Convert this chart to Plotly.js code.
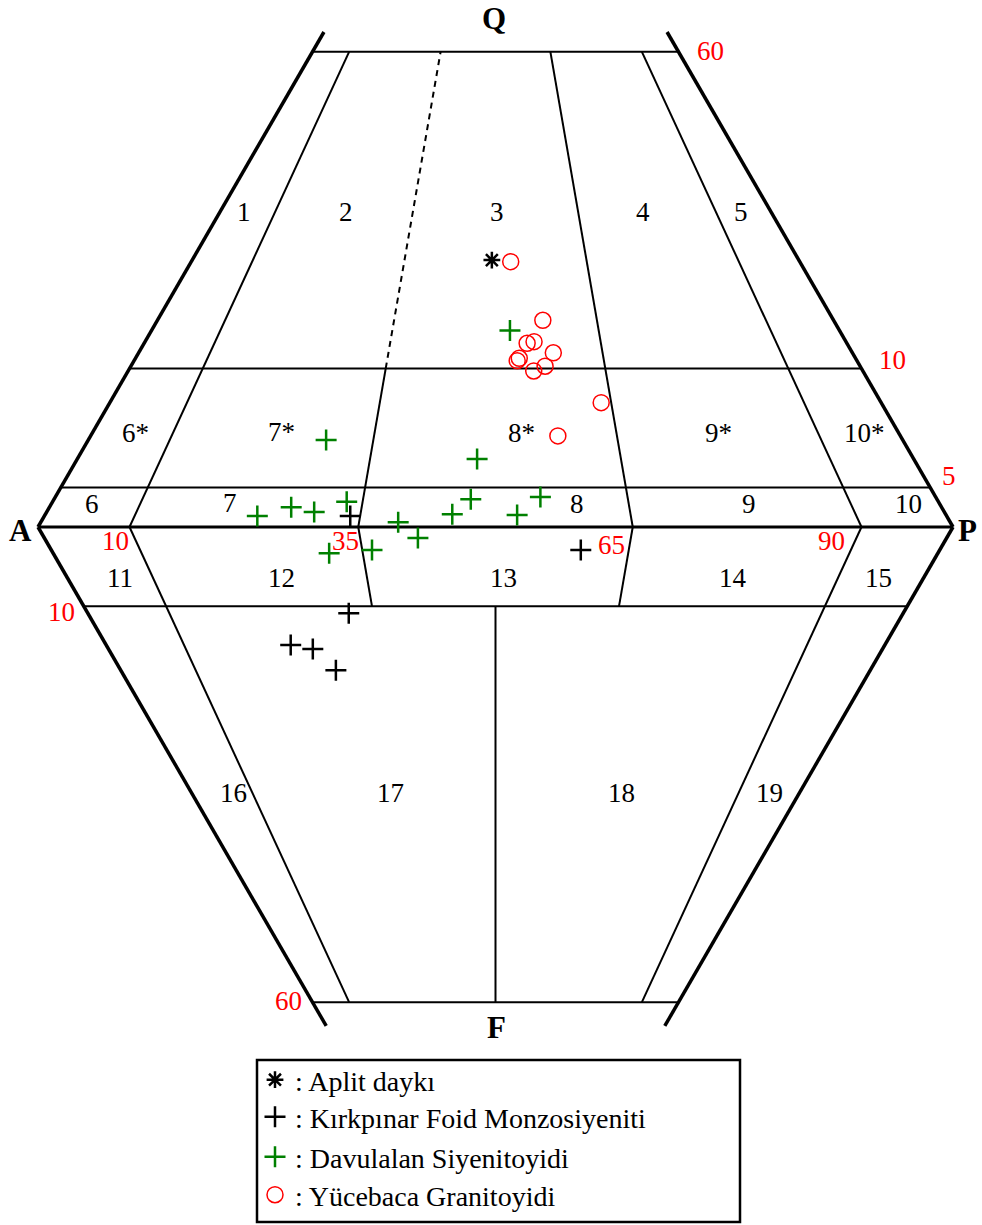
<!DOCTYPE html>
<html><head><meta charset="utf-8">
<script src="https://cdn.plot.ly/plotly-3.0.1.min.js"></script>
<style>html,body{margin:0;padding:0;background:#fff}</style>
</head><body><div id="chart" style="width:982px;height:1225px"></div>
<script>
// QAPF data: qf = Q% (positive, upper triangle) or -F% (negative, lower triangle);
// ratio = 100*P/(A+P)
const aplitQF    = [33.7];
const aplitRatio = [49.4];
const kirkQF    = [1.4, -2.9, -10.9, -14.9, -15.4, -18.1];
const kirkRatio = [33.9, 59.6, 32.0, 23.7, 26.4, 28.7];
const davQF    = [24.8, 11.0, 8.6, 1.4, 2.5, 1.9, 3.2, 3.5, 1.6, 0.6, 1.5, 3.8, -1.4, -3.3, -2.9];
const davRatio = [52.1, 29.2, 47.8, 23.6, 27.1, 29.8, 33.2, 47.2, 45.2, 39.3, 52.4, 55.1, 41.4, 31.2, 36.1];
const yuceQF    = [33.5, 26.1, 23.2, 23.4, 22.0, 21.3, 21.0, 19.7, 20.3, 15.7, 11.5];
const yuceRatio = [52.5, 57.0, 54.5, 55.5, 58.1, 53.3, 53.0, 55.2, 56.8, 63.7, 57.7];

const seriesNames = [': Aplit daykı', ': Kırkpınar Foid Monzosiyeniti', ': Davulalan Siyenitoyidi', ': Yücebaca Granitoyidi'];

// field boundaries
const qLevels = [5, 20, 60];
const fLevels = [10, 60];
const ratioLevels = [10, 35, 65, 90];

// field labels
const fieldLabels = ['1','2','3','4','5','6*','7*','8*','9*','10*','6','7','8','9','10',
  '11','12','13','14','15','16','17','18','19'];
const vertexLabels = ['Q','A','P','F'];
const scaleLabels = ['60','10','5','10','35','65','90','10','60'];

// ---- geometry helpers ----
function X(qf, r){ const a = Math.abs(qf); return r*(100-a)/100 + a/2; }
function Y(qf){ return qf; }

const shapes = [];
function seg(q1, r1, q2, r2, w, dash){
  shapes.push({type:'line', xref:'x', yref:'y', layer:'below',
    x0:X(q1,r1), y0:Y(q1), x1:X(q2,r2), y1:Y(q2),
    line:{color:'#000', width:w, dash:dash||'solid'}});
}
const THICK = 3.5, THIN = 2;
// outer edges (extend slightly beyond 60)
seg(0,0,62.5,0,THICK); seg(0,100,62.5,100,THICK);
seg(0,0,-63,0,THICK);  seg(0,100,-63,100,THICK);
seg(0,0,0,100,3);
// horizontal Q / F lines
qLevels.forEach(q => seg(q,0,q,100,THIN));
fLevels.forEach(f => seg(-f,0,-f,100,THIN));
// ratio lines upper
seg(0,ratioLevels[0],60,ratioLevels[0],THIN);
seg(0,ratioLevels[3],60,ratioLevels[3],THIN);
seg(0,ratioLevels[1],20,ratioLevels[1],THIN);
seg(20,ratioLevels[1],60,ratioLevels[1],THIN,'6px,5px');
seg(0,ratioLevels[2],60,ratioLevels[2],THIN);
// ratio lines lower
seg(0,ratioLevels[0],-60,ratioLevels[0],THIN);
seg(0,ratioLevels[3],-60,ratioLevels[3],THIN);
seg(0,ratioLevels[1],-10,ratioLevels[1],THIN);
seg(0,ratioLevels[2],-10,ratioLevels[2],THIN);
seg(-10,50,-60,50,THIN);

// legend box
shapes.push({type:'rect', xref:'paper', yref:'paper', x0:257/982, x1:740/982,
  y0:1-1222/1225, y1:1-1060/1225, line:{color:'#000', width:2.5}, layer:'above'});

// ---- annotations (positions in page pixels) ----
const FONT = 'Liberation Serif, Times New Roman, serif';
const annotations = [];
function lab(t, px, py, size, color, bold){
  annotations.push({text: bold ? '<b>'+t+'</b>' : t, xref:'paper', yref:'paper',
    x: px/982, y: 1-py/1225, xanchor:'center', yanchor:'middle', showarrow:false,
    font:{family:FONT, size:size, color:color}});
}
const fieldPos = [[244,212],[346,212],[497,212],[643,212],[741,212],
  [135,433],[281,432],[521,433],[718,433],[864,433],
  [92,504],[230,503],[577,504],[749,504],[908,504],
  [120,578],[281,578],[503,578],[733,578],[878,578],
  [233,793],[390,793],[621,793],[769,793]];
fieldLabels.forEach((t,i) => lab(t, fieldPos[i][0], fieldPos[i][1], 27, '#000'));
const vertexPos = [[494,19],[20,530],[967,530],[496,1027]];
vertexLabels.forEach((t,i) => lab(t, vertexPos[i][0], vertexPos[i][1], 31, '#000', true));
const scalePos = [[710,51],[892,360],[949,476],[115,541],[345,541],[611,545],[831,541],[61,612],[288,1001]];
scaleLabels.forEach((t,i) => lab(t, scalePos[i][0], scalePos[i][1], 27, '#ff0000'));

// ---- traces ----
function tr(qf, r, name, sym, size, color, lw, leg){
  return {type:'scatter', mode:'markers', name:name, legend:leg,
    x: qf.map((v,i)=>X(v,r[i])), y: qf.map(Y),
    marker:{symbol:sym, size:size, color:color, line:{color:color, width:lw}},
    hoverinfo:'skip'};
}
const data = [
  tr(aplitQF, aplitRatio, seriesNames[0], 'asterisk-open', 14, '#000', 2.5, 'legend'),
  tr(kirkQF, kirkRatio, seriesNames[1], 'cross-thin-open', 15, '#000', 2.5, 'legend2'),
  tr(davQF, davRatio, seriesNames[2], 'cross-thin-open', 15, '#008000', 2.5, 'legend3'),
  tr(yuceQF, yuceRatio, seriesNames[3], 'circle-open', 16, '#ff0000', 1.5, 'legend4')
];

function legendAt(py){
  return {x:255/982, y:1-py/1225, xanchor:'left', yanchor:'middle',
    bgcolor:'rgba(0,0,0,0)', borderwidth:0, font:{family:FONT, size:28, color:'#000'}};
}

const layout = {
  width:982, height:1225, margin:{l:0,r:0,t:0,b:0},
  paper_bgcolor:'#fff', plot_bgcolor:'#fff',
  xaxis:{range:[-38/9.15, 944/9.15], visible:false, fixedrange:true},
  yaxis:{range:[-698/7.92, 527/7.92], visible:false, fixedrange:true},
  showlegend:true,
  legend: legendAt(1080), legend2: legendAt(1117), legend3: legendAt(1157), legend4: legendAt(1195),
  shapes:shapes, annotations:annotations
};
Plotly.newPlot('chart', data, layout, {staticPlot:true, displayModeBar:false});
</script>
</body></html>
